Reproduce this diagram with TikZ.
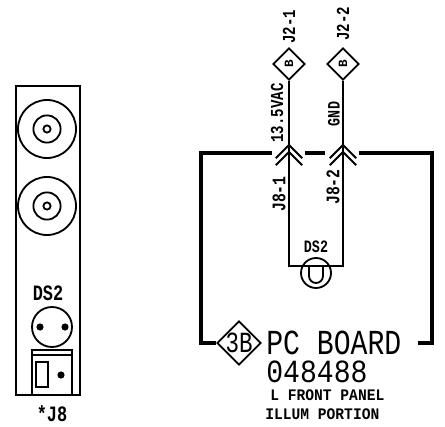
\documentclass[tikz,border=0pt]{standalone}
\usepackage{fontspec}
\setmonofont{Liberation Mono}
\usetikzlibrary{shapes.geometric}
\newcommand{\tallbox}[1]{\scalebox{1}[1.3]{#1}}
\tikzset{
  thin wire/.style={line width=1.3pt},
  board line/.style={line width=3.4pt},
  lbl/.style={inner sep=0pt,font=\ttfamily\bfseries\fontsize{#1}{#1}\selectfont},
  vlbl/.style={lbl=#1,rotate=90},
  test pin/.style={draw,diamond,thin wire,inner sep=0pt,minimum width=.8cm,minimum height=.8cm},
  big/.style={inner sep=0pt,font=\ttfamily\fontsize{20}{20}\selectfont}
}
\begin{document}
\begin{tikzpicture}
\useasboundingbox (0,0) rectangle (11.125,10.65);

% front panel
\draw[line width=1.4pt] (0.4,0.775) rectangle (2,8.5);
\draw[thin wire] (1.175,7.425) circle (0.725);
\draw[thin wire] (1.175,7.425) circle (0.34);
\draw[thin wire] (1.175,7.425) circle (0.09);
\draw[thin wire] (1.175,5.5) circle (0.725);
\draw[thin wire] (1.175,5.5) circle (0.34);
\draw[thin wire] (1.175,5.5) circle (0.09);
\node[lbl=12] (dsfront) at (1.2,3.325) {\tallbox{DS2}};
\draw[thin wire] (1.3,2.475) circle (0.5);
\fill (1,2.475) circle (0.09);
\fill (1.625,2.475) circle (0.09);
\draw[thin wire] (0.8,0.775) rectangle (1.8,1.9);
\draw[thin wire] (0.8,1.775) -- (1.8,1.775);
\draw[thin wire] (0.9,0.975) rectangle (1.2,1.6);
\fill (1.525,1.275) circle (0.09);
\node[lbl=12] (jfront) at (1.3,0.3) {\tallbox{*J8}};

% connector pins
\node[test pin] (pina) at (7.225,9.05) {};
\node[test pin] (pinb) at (8.575,9.05) {};
\node[vlbl=9] (pinatxt) at (pina) {B};
\node[vlbl=9] (pinbtxt) at (pinb) {B};
\node[vlbl=10] (jtwoa) at (7.225,9.98) {\tallbox{J2-1}};
\node[vlbl=10] (jtwob) at (8.575,10.05) {\tallbox{J2-2}};
\node[vlbl=10] (volts) at (6.925,7.825) {\tallbox{13.5VAC}};
\node[vlbl=9.5] (gnd) at (8.35,7.8) {\tallbox{GND}};
\node[vlbl=10.5] (jeighta) at (6.975,5.8) {\tallbox{J8-1}};
\node[vlbl=10.5] (jeightb) at (8.325,5.975) {\tallbox{J8-2}};

% wires and lamp
\coordinate (corna) at (7.225,4);
\coordinate (cornb) at (8.575,4);
\draw[thin wire] (pina.south) -- (corna) -- (cornb) -- (pinb.south);
\foreach \x in {7.225,8.575} {
  \draw[thin wire] (\x-0.33,6.695) -- (\x,7.025) -- (\x+0.33,6.695);
  \draw[thin wire] (\x-0.33,6.52) -- (\x,6.85) -- (\x+0.33,6.52);
}
\draw[thin wire] (7.9,3.825) circle (0.375);
\draw[thin wire] (7.725,4) -- (7.725,3.75) arc (180:360:0.175) -- (8.075,4);
\node[lbl=9.5] (dsboard) at (7.9,4.475) {\tallbox{DS2}};

% board outline
\node[draw,diamond,thin wire,inner sep=0pt,minimum width=1.1cm,minimum height=1.1cm] (boardref) at (5.975,2.075) {};
\node[inner sep=0pt,font=\ttfamily\fontsize{16}{16}\selectfont] (boardreftxt) at (boardref) {\tallbox{3B}};
\coordinate (topa) at (6.8,6.825);
\coordinate (topb) at (7.625,6.825);
\coordinate (topc) at (8.125,6.825);
\coordinate (topd) at (8.975,6.825);
\coordinate (rightend) at (10.45,2.075);
\draw[board line] (boardref.west) -- (5.025,2.075) -- (5.025,6.825) -- (topa);
\draw[board line] (topb) -- (topc);
\draw[board line] (topd) -- (10.8,6.825) -- (10.8,2.075) -- (rightend);
\node[big,anchor=west] (boardname) at (6.65,2.075) {\scalebox{1}[1.25]{PC BOARD}};
\node[big,anchor=west] (boardnum) at (6.65,1.35) {\scalebox{1}[1.15]{048488}};
\node[lbl=10.4,anchor=west] (lineone) at (6.75,0.775) {\scalebox{1}[1.1]{L FRONT PANEL}};
\node[lbl=10.4,anchor=west] (linetwo) at (6.625,0.3) {\scalebox{1}[1.1]{ILLUM PORTION}};

\end{tikzpicture}
\end{document}
